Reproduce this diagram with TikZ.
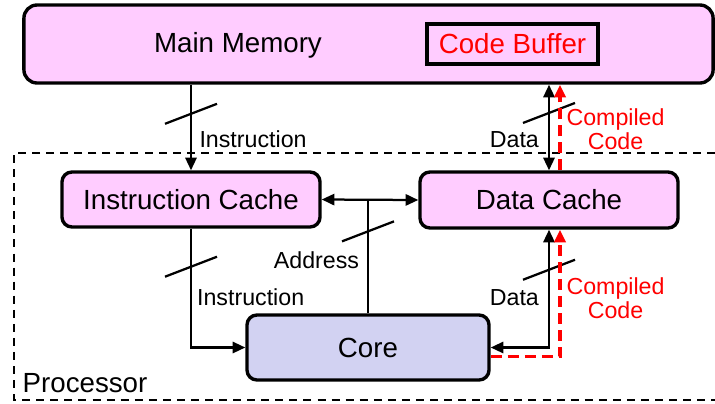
\documentclass[tikz,border=0pt]{standalone}
\usepackage{fontspec}
\setmainfont{Liberation Sans}
\usetikzlibrary{arrows.meta, positioning}

\definecolor{mempink}{RGB}{255,204,255}
\definecolor{corefill}{RGB}{210,210,242}

\begin{document}
\begin{tikzpicture}[x=0.025cm, y=-0.025cm,
        every node/.style={align=center},
        big/.style={font=\fontsize{19.7}{22}\selectfont},
        box/.style={draw, big, rounded corners=0.25cm, line width=2.4pt, inner sep=0pt},
        lbl/.style={inner sep=1pt, font=\fontsize{16.5}{17}\selectfont},
        arr/.style={-{Triangle[length=9pt, width=8pt]}, line width=1.6pt},
        dblarr/.style={{Triangle[length=9pt, width=8pt]}-{Triangle[length=9pt, width=8pt]}, line width=1.6pt},
        codearr/.style={arr, red, line width=2.2pt, dash pattern=on 7.8pt off 4.3pt},
        procline/.style={line width=1.1pt, dash pattern=on 5.7pt off 4.3pt},
        busmark/.pic={\draw[-, black, solid, line width=1.6pt] (-26,10) -- (26,-10);}
    ]
    \useasboundingbox (0,0) rectangle (715,403);

    % processor frame
    \draw[procline] (715,153) -| (14,400) -- (715,400);
    \node[big, anchor=west, inner sep=1pt] (proc) at (21,383) {Processor};

    % memory and caches
    \node[box, fill=mempink, rounded corners=0.33cm, minimum width=17.225cm, minimum height=1.95cm] (mm) at (368.5,44) {};
    \node[big] (mmtxt) at (238,45) {Main Memory};
    \node[draw, big, line width=2.4pt, text=red, inner sep=0pt,
          minimum width=4.275cm, minimum height=1cm] (buf) at (512.5,44) {Code Buffer};
    \node[box, fill=mempink, minimum width=6.45cm, minimum height=1.375cm] (ic) at (191,199.5) {Instruction Cache};
    \node[box, fill=mempink, minimum width=6.45cm, minimum height=1.4cm] (dc) at (549,200) {Data Cache};
    \node[box, fill=corefill, minimum width=6.05cm, minimum height=1.625cm] (core) at (368,347.5) {Core};

    % memory <-> caches
    \draw[arr] (mm.south -| ic.north) -- pic[pos=0.34]{busmark}
        node[lbl, pos=0.64, right=0.15cm]{Instruction} (ic.north);
    \draw[dblarr] (mm.south -| dc.north) -- pic[pos=0.33]{busmark}
        node[lbl, pos=0.64, left=0.19cm]{Data} (dc.north);
    \draw[codearr] ([xshift=0.275cm]dc.north) --
        node[lbl, pos=0.48, right=0.09cm]{Compiled\\Code} ([xshift=0.275cm]dc.north |- mm.south);

    % address bus
    \draw[dblarr] (ic.east) -- (dc.west);
    \draw[line width=1.6pt] (core.north) -- pic[pos=0.72]{busmark}
        node[lbl, pos=0.47, left=0.16cm]{Address} (core.north |- ic.east);

    % caches <-> core
    \draw[arr] (ic.south) |- pic[pos=0.16]{busmark}
        node[lbl, pos=0.29, right=0.09cm]{Instruction} (core.west);
    \draw[dblarr] (dc.south) |- pic[pos=0.17]{busmark}
        node[lbl, pos=0.29, left=0.19cm]{Data} (core.east);
    \draw[codearr] ([yshift=-0.225cm]core.east) -|
        node[lbl, pos=0.73, right=0.09cm]{Compiled\\Code} ([xshift=0.275cm]dc.south);
\end{tikzpicture}
\end{document}
